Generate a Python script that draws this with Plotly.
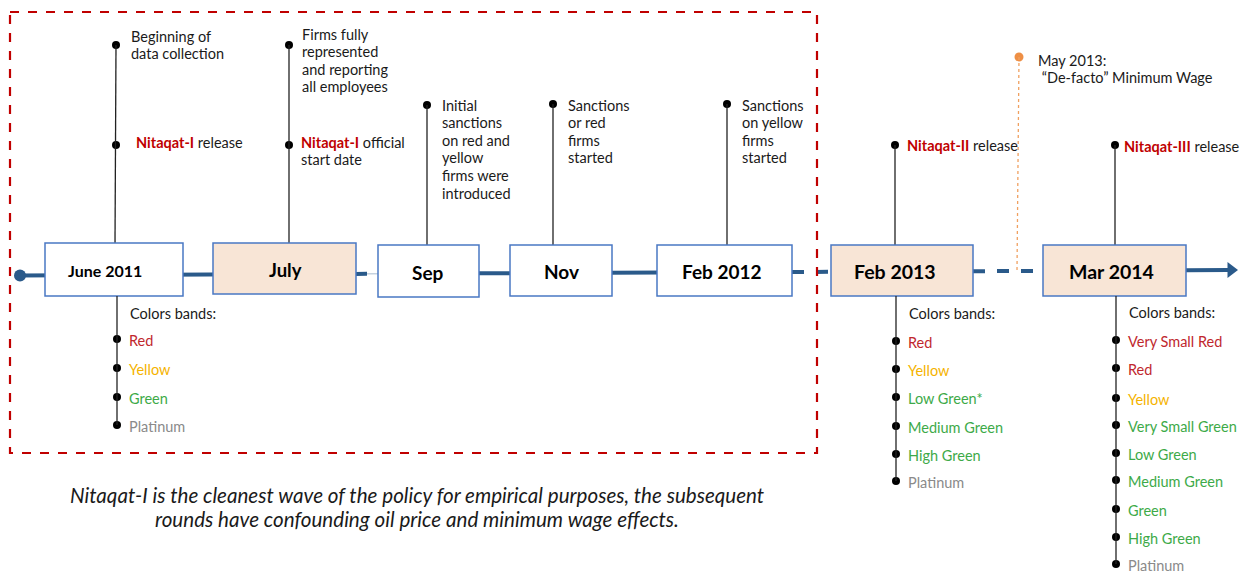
import plotly.graph_objects as go

# ---- content ----
box_labels = ["June 2011", "July", "Sep", "Nov", "Feb 2012", "Feb 2013", "Mar 2014"]
box_shaded = [False, True, False, False, False, True, True]

N1 = "<b><span style='color:#C00000'>Nitaqat-I</span></b>"
N2 = "<b><span style='color:#C00000'>Nitaqat-II</span></b>"
N3 = "<b><span style='color:#C00000'>Nitaqat-III</span></b>"
top_notes = [
    [["Beginning of", "data collection"], [N1 + " release"]],
    [["Firms fully", "represented", "and reporting", "all employees"], [N1 + " official", "start date"]],
    [["Initial", "sanctions", "on red and", "yellow", "firms were", "introduced"]],
    [["Sanctions", "or red", "firms", "started"]],
    [["Sanctions", "on yellow", "firms", "started"]],
    [[N2 + " release"]],
    [[N3 + " release"]],
]

bands_2011 = ["Red", "Yellow", "Green", "Platinum"]
bands_2013 = ["Red", "Yellow", "Low Green*", "Medium Green", "High Green", "Platinum"]
bands_2014 = ["Very Small Red", "Red", "Yellow", "Very Small Green", "Low Green",
              "Medium Green", "Green", "High Green", "Platinum"]

wage_note = ["May 2013:", " \u201cDe-facto\u201d Minimum Wage"]
caption = ["Nitaqat-I is the cleanest wave of the policy for empirical purposes, the subsequent",
           "rounds have confounding oil price and minimum wage effects."]

# ---- layout geometry (pixels) ----
box_x0 = [45, 213, 378, 510, 657, 831, 1043]
box_x1 = [183, 356, 479, 612, 792, 973, 1186]
box_y0 = [243, 243, 245, 245, 245, 245, 245]
box_y1 = [296, 294, 297, 296, 296, 296, 296]
label_x = [105, 285, 428, 561, 722, 895, 1111]
label_size = [16, 18.5, 19, 19, 19, 19.5, 19.5]
stem_x = [116, 289, 427, 553, 727, 895, 1115]
note_y = [[45, 145], [45, 145], [105], [104], [104], [145], [145]]
note_text_y = [[36, 142], [34, 142], [105], [105], [105], [145], [146]]
note_dx = [[13, 18], [11, 10], [13], [13], [13], [10], [7]]
LINE_H = 17.6

band_sets = [(bands_2011, 117, 296, [339, 368, 397, 425], 313),
             (bands_2013, 896, 296, [341, 369, 397, 426, 454, 481], 313),
             (bands_2014, 1116, 296, [340, 368, 398, 425, 453, 480, 509, 537, 564], 312)]

band_colors = {"Red": "#C0272D", "Yellow": "#F5B300", "Green": "#3DAA48",
               "Platinum": "#8A8A8A"}

BLUE = "#2A5A8A"
BORDER = "#4A78C4"
PEACH = "#F8E5D6"
FONT = "Lato, 'Open Sans', sans-serif"
TXT = 14.5


def line_y(x):
    return 275.5 - 5.5 * x / 1238


def band_color(name):
    if "Red" in name:
        return band_colors["Red"]
    if "Yellow" in name:
        return band_colors["Yellow"]
    if "Green" in name:
        return band_colors["Green"]
    return band_colors["Platinum"]


fig = go.Figure()
shapes = []
annotations = []


def add_lines(x, y, lines, size=TXT, color="#1a1a1a", anchor="left", step=LINE_H):
    for k, t in enumerate(lines):
        annotations.append(dict(x=x, y=y + k * step, text=t, xanchor=anchor, yanchor="middle",
                                showarrow=False, font=dict(size=size, color=color, family=FONT)))


# timeline segments
segs = [(20, 356, "solid", 4, BLUE), (356, 367, "solid", 4, BLUE), (367, 378, "solid", 1, "#A9BCD0"),
        (479, 792, "solid", 4, BLUE), (792, 831, "dash", 4, BLUE), (973, 1043, "dash", 4, BLUE),
        (1186, 1228, "solid", 4, BLUE)]
for x0, x1, dash, w, c in segs:
    shapes.append(dict(type="line", x0=x0, x1=x1, y0=line_y(x0), y1=line_y(x1),
                       line=dict(color=c, width=w, dash=dash), layer="below"))
fig.add_trace(go.Scatter(x=[20], y=[line_y(20)], mode="markers",
                         marker=dict(size=12, color=BLUE), hoverinfo="skip"))
fig.add_trace(go.Scatter(x=[1231], y=[line_y(1231)], mode="markers",
                         marker=dict(size=14, color=BLUE, symbol="triangle-right"), hoverinfo="skip"))

# stems above boxes
dot_x, dot_y = [], []
for i, lbl in enumerate(box_labels):
    top = min(note_y[i])
    shapes.append(dict(type="line", x0=stem_x[i], x1=stem_x[i] - (1 if i == 0 else 0),
                       y0=top, y1=box_y0[i], line=dict(color="#222", width=1.3)))
    for j, lines in enumerate(top_notes[i]):
        dot_x.append(stem_x[i])
        dot_y.append(note_y[i][j])
        add_lines(stem_x[i] + note_dx[i][j], note_text_y[i][j], lines)

# boxes
for i, lbl in enumerate(box_labels):
    shapes.append(dict(type="rect", x0=box_x0[i], x1=box_x1[i], y0=box_y0[i], y1=box_y1[i],
                       fillcolor=PEACH if box_shaded[i] else "white",
                       line=dict(color=BORDER, width=1.5)))
    annotations.append(dict(x=label_x[i], y=(box_y0[i] + box_y1[i]) / 2 + 1, text="<b>" + lbl + "</b>",
                            showarrow=False, xanchor="center", yanchor="middle",
                            font=dict(size=label_size[i], color="black", family=FONT)))

# colour bands below
for names, sx, sy, ys, hy in band_sets:
    shapes.append(dict(type="line", x0=sx, x1=sx, y0=sy, y1=ys[-1],
                       line=dict(color="#222", width=1.3)))
    add_lines(sx + 11, hy, ["Colors bands:"])
    for name, yy in zip(names, ys):
        dot_x.append(sx)
        dot_y.append(yy)
        add_lines(sx + 10, yy + 1, [name], color=band_color(name))

fig.add_trace(go.Scatter(x=dot_x, y=dot_y, mode="markers",
                         marker=dict(size=8, color="black"), hoverinfo="skip"))

# minimum wage marker
shapes.append(dict(type="line", x0=1019, x1=1017, y0=57, y1=line_y(1017),
                   line=dict(color="#F0A060", width=1.3, dash="dot")))
fig.add_trace(go.Scatter(x=[1019], y=[57], mode="markers",
                         marker=dict(size=9, color="#EE8F45"), hoverinfo="skip"))
add_lines(1036, 60, wage_note)

# Nitaqat-I frame
shapes.append(dict(type="rect", x0=10, x1=817, y0=12, y1=453,
                   line=dict(color="#C00000", width=2.2, dash="dash"), fillcolor="rgba(0,0,0,0)"))

add_lines(417, 495, ["<i>" + c + "</i>" for c in caption], size=20.6, anchor="center", step=24)

fig.update_layout(
    width=1244, height=573, margin=dict(l=0, r=0, t=0, b=0),
    paper_bgcolor="white", plot_bgcolor="white", showlegend=False,
    xaxis=dict(range=[0, 1244], visible=False, fixedrange=True),
    yaxis=dict(range=[573, 0], visible=False, fixedrange=True),
    shapes=shapes, annotations=annotations,
)

fig.write_html("out.html", config={"displayModeBar": False},
               post_script="document.body.style.margin='0';")
